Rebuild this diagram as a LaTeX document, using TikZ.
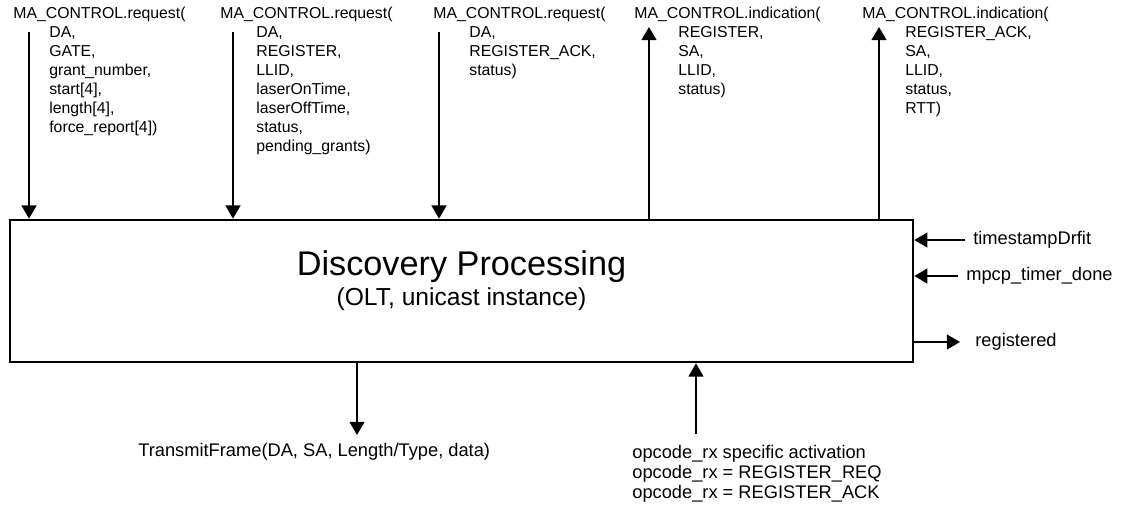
\documentclass[tikz,border=0pt]{standalone}
\usepackage{fontspec}
\setmainfont{Liberation Sans}
\usetikzlibrary{arrows.meta}

\newcommand{\ind}[1][0.72cm]{\hspace*{#1}}

\begin{document}
\begin{tikzpicture}[x=0.02cm, y=-0.02cm,
  sig/.style={-{Triangle[width=8.5pt,length=7.5pt]}, line width=0.95pt},
  block/.style={draw, line width=1.6pt, minimum width=18.06cm, minimum height=2.84cm, inner sep=0pt},
  prim/.style={anchor=north west, align=left, inner sep=0pt, font=\fontsize{9}{10.8}\selectfont},
  lbl/.style={anchor=west, inner sep=0pt, font=\fontsize{10.4}{11.4}\selectfont}]
\useasboundingbox (0,0) rectangle (1127,512);

% the process block
\node	[block]		(box)	at (461.5,291)	{};
\node	[font=\fontsize{19.5}{23}\selectfont]	(title)	at (461.5,267)	{Discovery Processing};
\node	[font=\fontsize{14}{17}\selectfont]	(sub)	at (461.5,299)	{(OLT, unicast instance)};

% service primitives on top
\node	[prim]	(gate)	at (13,7)	{MA\_CONTROL.request(\\ \ind DA,\\ \ind GATE,\\ \ind grant\_number,\\ \ind start[4],\\ \ind length[4],\\ \ind force\_report[4])};
\node	[prim]	(reg)	at (220,7)	{MA\_CONTROL.request(\\ \ind DA,\\ \ind REGISTER,\\ \ind LLID,\\ \ind laserOnTime,\\ \ind laserOffTime,\\ \ind status,\\ \ind pending\_grants)};
\node	[prim]	(ack)	at (433,7)	{MA\_CONTROL.request(\\ \ind DA,\\ \ind REGISTER\_ACK,\\ \ind status)};
\node	[prim]	(regind)	at (634,7)	{MA\_CONTROL.indication(\\ \ind[0.88cm]REGISTER,\\ \ind[0.88cm]SA,\\ \ind[0.88cm]LLID,\\ \ind[0.88cm]status)};
\node	[prim]	(ackind)	at (862,7)	{MA\_CONTROL.indication(\\ \ind[0.86cm]REGISTER\_ACK,\\ \ind[0.86cm]SA,\\ \ind[0.86cm]LLID,\\ \ind[0.86cm]status,\\ \ind[0.86cm]RTT)};

\coordinate	(q1)	at (29,32);
\coordinate	(q2)	at (233,32);
\coordinate	(q3)	at (439,32);
\coordinate	(i1)	at (649,27);
\coordinate	(i2)	at (879,27);

\draw [sig] (q1) -- (q1 |- box.north);
\draw [sig] (q2) -- (q2 |- box.north);
\draw [sig] (q3) -- (q3 |- box.north);
\draw [sig] (i1 |- box.north) -- (i1);
\draw [sig] (i2 |- box.north) -- (i2);

% side signals
\node	[lbl]	(drift)	at (973,240)	{timestampDrfit};
\node	[lbl]	(timer)	at (966,276)	{mpcp\_timer\_done};
\node	[lbl]	(done)	at (975,342)	{registered};

\draw [sig, shorten <=0.16cm] (drift) -- (drift -| box.east);
\draw [sig, shorten <=0.16cm] (timer) -- (timer -| box.east);
\draw [sig, shorten >=0.3cm] (done -| box.east) -- (done);

% frame interface below
\node	[lbl]	(tx)	at (138,452)	{TransmitFrame(DA, SA, Length/Type, data)};
\node	[prim, font=\fontsize{10.4}{11.4}\selectfont]	(rx)	at (632,445)	{opcode\_rx specific activation\\opcode\_rx = REGISTER\_REQ\\opcode\_rx = REGISTER\_ACK};

\coordinate	(t1)	at (357,435);
\coordinate	(r1)	at (696,434);

\draw [sig] (t1 |- box.south) -- (t1);
\draw [sig] (r1) -- (r1 |- box.south);
\end{tikzpicture}
\end{document}
